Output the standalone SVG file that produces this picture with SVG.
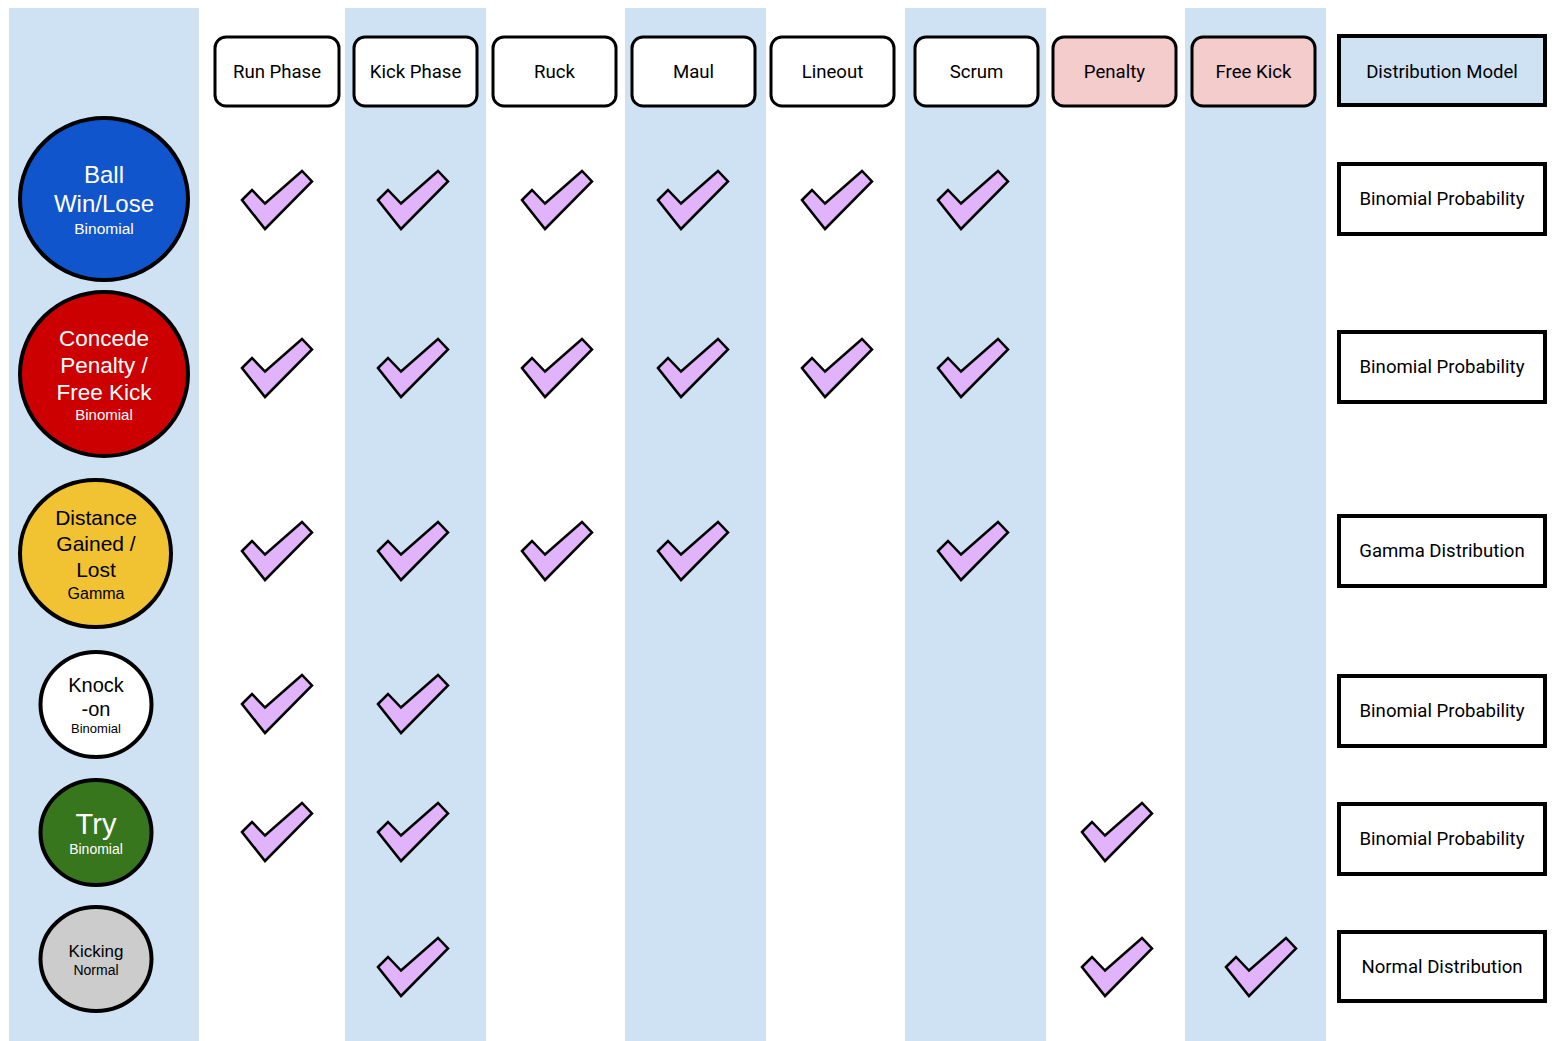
<svg xmlns="http://www.w3.org/2000/svg" xmlns:xlink="http://www.w3.org/1999/xlink" width="1559" height="1041" viewBox="0 0 1559 1041">
<style>
.stripe{fill:#cfe2f3}
.hdr{fill:#ffffff;stroke:#000;stroke-width:3}
.pen{fill:#f4cccc;stroke:#000;stroke-width:3}
.dist{fill:#cfe2f3;stroke:#000;stroke-width:4}
.box{fill:#ffffff;stroke:#000;stroke-width:4}
.ht{font-family:Roboto,"Liberation Sans",sans-serif;font-size:18.6px;fill:#000;text-anchor:middle}
.circ{stroke:#000;stroke-width:4}
.ct{font-family:"Liberation Sans",Arial,sans-serif;text-anchor:middle}
.chk{fill:#e0b3fb;stroke:#000;stroke-width:2.5;stroke-linejoin:miter}
</style>
<defs>
<path id="check" class="chk" d="M0,29 L10,19 L23,32.5 L60,0 L70,10.5 L23,58 Z"/>
</defs>
<rect width="1559" height="1041" fill="#ffffff"/>
<g id="stripes">
<rect class="stripe" x="9" y="8" width="190" height="1033"/>
<rect class="stripe" x="345" y="8" width="141" height="1033"/>
<rect class="stripe" x="625" y="8" width="141" height="1033"/>
<rect class="stripe" x="905" y="8" width="141" height="1033"/>
<rect class="stripe" x="1185" y="8" width="141" height="1033"/>
</g>
<g id="header-run"><rect class="hdr" x="215" y="37" width="124" height="69" rx="11"/><text class="ht" x="277" y="78">Run Phase</text></g>
<g id="header-kick"><rect class="hdr" x="354" y="37" width="123" height="69" rx="11"/><text class="ht" x="415.5" y="78">Kick Phase</text></g>
<g id="header-ruck"><rect class="hdr" x="493" y="37" width="123" height="69" rx="11"/><text class="ht" x="554.5" y="78">Ruck</text></g>
<g id="header-maul"><rect class="hdr" x="632" y="37" width="123" height="69" rx="11"/><text class="ht" x="693.5" y="78">Maul</text></g>
<g id="header-lineout"><rect class="hdr" x="771" y="37" width="123" height="69" rx="11"/><text class="ht" x="832.5" y="78">Lineout</text></g>
<g id="header-scrum"><rect class="hdr" x="915" y="37" width="123" height="69" rx="11"/><text class="ht" x="976.5" y="78">Scrum</text></g>
<g id="header-penalty"><rect class="pen" x="1053" y="37" width="123" height="69" rx="11"/><text class="ht" x="1114.5" y="78">Penalty</text></g>
<g id="header-freekick"><rect class="pen" x="1192" y="37" width="123" height="69" rx="11"/><text class="ht" x="1253.5" y="78">Free Kick</text></g>
<g id="header-distribution"><rect class="dist" x="1339" y="36" width="206" height="69"/><text class="ht" x="1442" y="78">Distribution Model</text></g>
<g id="node-ball">
<ellipse class="circ" cx="104" cy="199" rx="84" ry="81" fill="#1155cc"/>
<text class="ct" x="104" y="183" font-size="24" fill="#fff">Ball</text>
<text class="ct" x="104" y="212" font-size="24" fill="#fff">Win/Lose</text>
<text class="ct" x="104" y="234" font-size="15.5" fill="#fff">Binomial</text>
</g>
<g id="node-concede">
<ellipse class="circ" cx="104" cy="374" rx="84" ry="82" fill="#cc0000"/>
<text class="ct" x="104" y="346" font-size="22.5" fill="#fff">Concede</text>
<text class="ct" x="104" y="373" font-size="22.5" fill="#fff">Penalty /</text>
<text class="ct" x="104" y="400" font-size="22.5" fill="#fff">Free Kick</text>
<text class="ct" x="104" y="420" font-size="15" fill="#fff">Binomial</text>
</g>
<g id="node-distance">
<ellipse class="circ" cx="95.5" cy="553.5" rx="75.5" ry="73.5" fill="#f1c232"/>
<text class="ct" x="96" y="525" font-size="21" fill="#000">Distance</text>
<text class="ct" x="96" y="551" font-size="21" fill="#000">Gained /</text>
<text class="ct" x="96" y="577" font-size="21" fill="#000">Lost</text>
<text class="ct" x="96" y="599" font-size="16" fill="#000">Gamma</text>
</g>
<g id="node-knockon">
<ellipse class="circ" cx="96" cy="704.5" rx="55.5" ry="52.5" fill="#ffffff"/>
<text class="ct" x="96" y="692" font-size="20" fill="#000">Knock</text>
<text class="ct" x="96" y="716" font-size="20" fill="#000">-on</text>
<text class="ct" x="96" y="733" font-size="13" fill="#000">Binomial</text>
</g>
<g id="node-try">
<ellipse class="circ" cx="96" cy="832.5" rx="55.5" ry="52.5" fill="#38761d"/>
<text class="ct" x="96" y="834" font-size="29" fill="#fff">Try</text>
<text class="ct" x="96" y="854" font-size="14" fill="#fff">Binomial</text>
</g>
<g id="node-kicking">
<ellipse class="circ" cx="96" cy="959" rx="55.5" ry="52" fill="#cccccc"/>
<text class="ct" x="96" y="957" font-size="17" fill="#000">Kicking</text>
<text class="ct" x="96" y="975" font-size="14" fill="#000">Normal</text>
</g>
<g id="model-1"><rect class="box" x="1339" y="164" width="206" height="70"/><text class="ht" x="1442" y="205">Binomial Probability</text></g>
<g id="model-2"><rect class="box" x="1339" y="332" width="206" height="70"/><text class="ht" x="1442" y="373">Binomial Probability</text></g>
<g id="model-3"><rect class="box" x="1339" y="516" width="206" height="70"/><text class="ht" x="1442" y="557">Gamma Distribution</text></g>
<g id="model-4"><rect class="box" x="1339" y="676" width="206" height="70"/><text class="ht" x="1442" y="717">Binomial Probability</text></g>
<g id="model-5"><rect class="box" x="1339" y="804" width="206" height="70"/><text class="ht" x="1442" y="845">Binomial Probability</text></g>
<g id="model-6"><rect class="box" x="1339" y="932" width="206" height="69"/><text class="ht" x="1442" y="973">Normal Distribution</text></g>
<g id="checks">
<use xlink:href="#check" href="#check" x="242" y="171"/>
<use xlink:href="#check" href="#check" x="378" y="171"/>
<use xlink:href="#check" href="#check" x="522" y="171"/>
<use xlink:href="#check" href="#check" x="658" y="171"/>
<use xlink:href="#check" href="#check" x="802" y="171"/>
<use xlink:href="#check" href="#check" x="938" y="171"/>
<use xlink:href="#check" href="#check" x="242" y="339"/>
<use xlink:href="#check" href="#check" x="378" y="339"/>
<use xlink:href="#check" href="#check" x="522" y="339"/>
<use xlink:href="#check" href="#check" x="658" y="339"/>
<use xlink:href="#check" href="#check" x="802" y="339"/>
<use xlink:href="#check" href="#check" x="938" y="339"/>
<use xlink:href="#check" href="#check" x="242" y="522"/>
<use xlink:href="#check" href="#check" x="378" y="522"/>
<use xlink:href="#check" href="#check" x="522" y="522"/>
<use xlink:href="#check" href="#check" x="658" y="522"/>
<use xlink:href="#check" href="#check" x="938" y="522"/>
<use xlink:href="#check" href="#check" x="242" y="675"/>
<use xlink:href="#check" href="#check" x="378" y="675"/>
<use xlink:href="#check" href="#check" x="242" y="803"/>
<use xlink:href="#check" href="#check" x="378" y="803"/>
<use xlink:href="#check" href="#check" x="1082" y="803"/>
<use xlink:href="#check" href="#check" x="378" y="938"/>
<use xlink:href="#check" href="#check" x="1082" y="938"/>
<use xlink:href="#check" href="#check" x="1226" y="938"/>
</g>
</svg>
